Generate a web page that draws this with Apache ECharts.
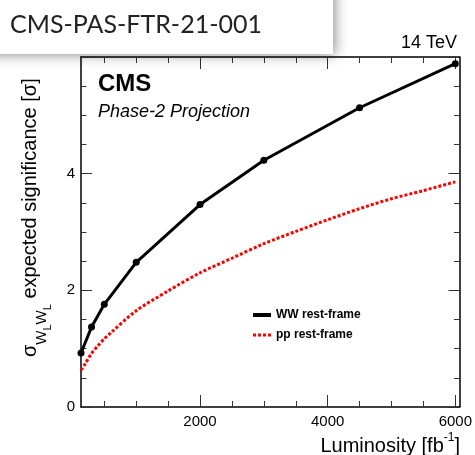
<!DOCTYPE html>
<html><head><meta charset="utf-8">
<script src="https://cdn.jsdelivr.net/npm/echarts@6/dist/echarts.min.js"></script>
<style>html,body{margin:0;padding:0;background:#fff}#c{width:475px;height:455px}</style>
</head><body><div id="c"></div>
<script>
// ---- data ----
const seriesNames = ['WW rest-frame', 'pp rest-frame'];
const lumiWW = [135, 300, 500, 1000, 2000, 3000, 4500, 6000];
const sigWW  = [0.925, 1.37, 1.76, 2.48, 3.47, 4.23, 5.13, 5.885];
const lumiPP = [135, 200, 300, 400, 500, 600, 1000, 1500, 2000, 2500, 3000, 3500, 4000, 4500, 5000, 5500, 6000];
const sigPP  = [0.63, 0.74, 0.92, 1.05, 1.17, 1.27, 1.65, 1.99, 2.30, 2.55, 2.80, 3.01, 3.21, 3.40, 3.57, 3.71, 3.86];
const xLabels = [2000, 4000, 6000];
const xMajorTicks = [2000, 4000, 6000];
const xMinorTicks = [500, 1000, 1500, 2500, 3000, 3500, 4500, 5000, 5500];
const yLabels = [0, 2, 4];
const yMajorTicks = [0, 2, 4, 6];
const yMinorTicks = [0.5, 1, 1.5, 2.5, 3, 3.5, 4.5, 5, 5.5];

const X_MIN = 135, X_MAX = 6065, Y_MIN = 0, Y_MAX = 6;
const FONT = 'Liberation Sans';

function zip(a, b) { return a.map((v, i) => [v, b[i]]); }
const plain = v => String(v);

function xa(pos, ticks, len, showLine, labels) {
  return {
    type: 'value', position: pos, min: X_MIN, max: X_MAX,
    axisLine: { show: showLine, onZero: false, lineStyle: { color: '#000', width: 1.5 } },
    axisTick: { show: true, inside: true, length: len, customValues: ticks, lineStyle: { color: '#333', width: 1 } },
    axisLabel: labels ? { show: true, customValues: labels, formatter: plain, margin: 7, color: '#000', fontSize: 15, fontFamily: FONT } : { show: false },
    splitLine: { show: false }
  };
}
function ya(pos, ticks, len, showLine, labels) {
  return {
    type: 'value', position: pos, min: Y_MIN, max: Y_MAX,
    axisLine: { show: showLine, onZero: false, lineStyle: { color: '#000', width: 1.5 } },
    axisTick: { show: true, inside: true, length: len, customValues: ticks, lineStyle: { color: '#333', width: 1 } },
    axisLabel: labels ? { show: true, customValues: labels, formatter: plain, margin: 6, color: '#000', fontSize: 15, fontFamily: FONT } : { show: false },
    splitLine: { show: false }
  };
}

const chart = echarts.init(document.getElementById('c'), null, { renderer: 'canvas' });
chart.setOption({
  backgroundColor: '#fff',
  animation: false,
  grid: { left: 81, right: 14, top: 57, bottom: 48 },
  xAxis: [
    xa('bottom', xMajorTicks, 12, true, xLabels),
    xa('bottom', xMinorTicks, 6, false, null),
    xa('top', xMajorTicks, 12, true, null),
    xa('top', xMinorTicks, 6, false, null)
  ],
  yAxis: [
    ya('left', yMajorTicks, 11, true, yLabels),
    ya('left', yMinorTicks, 5.5, false, null),
    ya('right', yMajorTicks, 11, true, null),
    ya('right', yMinorTicks, 5.5, false, null)
  ],
  legend: {
    orient: 'vertical', left: 253, top: 308, padding: 0, itemWidth: 18, itemHeight: 4, itemGap: 6,
    selectedMode: false,
    textStyle: { fontFamily: FONT, fontWeight: 'bold', fontSize: 12, color: '#000', lineHeight: 14 },
    data: [
      { name: seriesNames[0], icon: 'rect' },
      { name: seriesNames[1], icon: 'path://M0,0h3v3h-3zM5,0h3v3h-3zM10,0h3v3h-3zM15,0h3v3h-3z' }
    ]
  },
  series: [
    {
      name: seriesNames[1], type: 'line', xAxisIndex: 0, yAxisIndex: 0,
      data: zip(lumiPP, sigPP), smooth: 0.3, symbol: 'none', color: '#ff0000',
      lineStyle: { color: '#ff0000', width: 3, type: [3, 2], cap: 'butt' }, z: 3
    },
    {
      name: seriesNames[0], type: 'line', xAxisIndex: 0, yAxisIndex: 0,
      data: zip(lumiWW, sigWW), symbol: 'circle', symbolSize: 7, color: '#000',
      itemStyle: { color: '#000' }, lineStyle: { color: '#000', width: 3 }, z: 4
    }
  ],
  graphic: [
    { type: 'rect', z: 100, shape: { x: -20, y: -20, width: 353, height: 74 },
      style: { fill: '#fff', shadowBlur: 12, shadowColor: 'rgba(0,0,0,0.45)', shadowOffsetX: 2, shadowOffsetY: 1 } },
    { type: 'text', z: 101, x: 10, y: 25,
      style: { text: 'CMS-PAS-FTR-21-001', font: '25px Lato', fill: '#222', textVerticalAlign: 'middle' } },
    { type: 'text', z: 101, x: 457, y: 43,
      style: { text: '14 TeV', font: '18px "Liberation Sans"', fill: '#000', textAlign: 'right', textVerticalAlign: 'middle' } },
    { type: 'text', z: 101, x: 98, y: 84,
      style: { text: 'CMS', font: 'bold 24px "Liberation Sans"', fill: '#000', textVerticalAlign: 'middle' } },
    { type: 'text', z: 101, x: 98, y: 111.5,
      style: { text: 'Phase-2 Projection', font: 'italic 18px "Liberation Sans"', fill: '#000', textVerticalAlign: 'middle' } },
    { type: 'text', z: 101, x: 460, y: 444,
      style: {
        text: '{a|Luminosity [fb}{s|-1}{a|]}', textAlign: 'right', textVerticalAlign: 'middle',
        rich: {
          a: { fontFamily: FONT, fontSize: 20, color: '#000', lineHeight: 24, verticalAlign: 'bottom' },
          s: { fontFamily: FONT, fontSize: 12, color: '#000', lineHeight: 14, verticalAlign: 'top' }
        }
      } },
    { type: 'text', z: 101, x: 20, y: 357, rotation: Math.PI / 2,
      style: {
        text: '{m|σ}{w|W}{l|L}{w|W}{l|L}{m| expected significance [σ]}', textAlign: 'left', textVerticalAlign: 'top',
        rich: {
          m: { fontFamily: FONT, fontSize: 20, color: '#000', lineHeight: 24, verticalAlign: 'top' },
          w: { fontFamily: FONT, fontSize: 15, color: '#000', lineHeight: 16, verticalAlign: 'top', padding: [14, 0, 0, 0] },
          l: { fontFamily: FONT, fontSize: 11, color: '#000', lineHeight: 12, verticalAlign: 'top', padding: [22, 0, 0, 0] }
        }
      } }
  ]
});
</script></body></html>
